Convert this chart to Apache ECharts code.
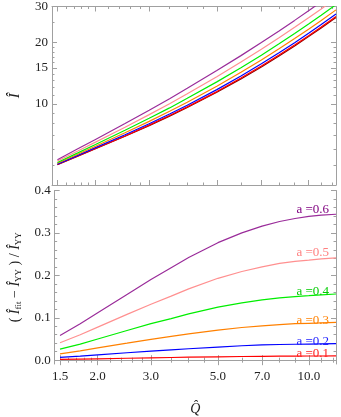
<!DOCTYPE html>
<html><head><meta charset="utf-8">
<script src="https://cdn.jsdelivr.net/npm/echarts@6/dist/echarts.min.js"></script>
<style>html,body{margin:0;padding:0;background:#fff}#c{width:341px;height:417px}</style>
</head><body><div id="c"></div>
<script>
// Q-hat sample points
const Q = [1.5, 1.75, 2, 2.5, 3, 3.5, 4, 5, 6, 7, 8, 9, 10, 11, 12.3];
// Top panel: I-hat for a = 0 ... 0.6
const I_a0  = [5.03, 5.54, 6.02, 6.93, 7.82, 8.70, 9.59, 11.39, 13.25, 15.17, 17.17, 19.23, 21.36, 23.56, 26.52];
const I_a01 = [5.04, 5.55, 6.04, 6.96, 7.86, 8.76, 9.66, 11.48, 13.37, 15.31, 17.33, 19.42, 21.57, 23.79, 26.79];
const I_a02 = [5.06, 5.59, 6.10, 7.05, 7.99, 8.91, 9.85, 11.74, 13.70, 15.72, 17.81, 19.95, 22.17, 24.47, 27.55];
const I_a03 = [5.11, 5.66, 6.19, 7.21, 8.20, 9.19, 10.18, 12.20, 14.27, 16.40, 18.61, 20.88, 23.22, 25.63, 28.88];
const I_a04 = [5.16, 5.75, 6.32, 7.42, 8.49, 9.55, 10.64, 12.81, 15.04, 17.32, 19.69, 22.11, 24.61, 27.19, 30.65];
const I_a05 = [5.24, 5.87, 6.49, 7.68, 8.85, 10.01, 11.20, 13.59, 16.02, 18.51, 21.08, 23.71, 26.40, 29.19, 32.91];
const I_a06 = [5.32, 6.02, 6.69, 8.00, 9.31, 10.60, 11.91, 14.55, 17.23, 19.96, 22.78, 25.65, 28.60, 31.62, 35.64];
// Bottom panel: relative difference (I_fit - I_YY) / I_YY
const R_a01 = [0.0017, 0.0025, 0.0032, 0.0045, 0.0055, 0.0063, 0.007, 0.008, 0.0087, 0.0092, 0.0095, 0.0097, 0.0098, 0.0099, 0.010];
const R_a02 = [0.0065, 0.0097, 0.0127, 0.0175, 0.0215, 0.0245, 0.027, 0.031, 0.034, 0.036, 0.037, 0.0375, 0.038, 0.0385, 0.039];
const R_a03 = [0.015, 0.022, 0.029, 0.040, 0.049, 0.056, 0.062, 0.071, 0.077, 0.081, 0.084, 0.086, 0.087, 0.088, 0.089];
const R_a04 = [0.026, 0.038, 0.050, 0.070, 0.086, 0.098, 0.109, 0.125, 0.135, 0.142, 0.147, 0.150, 0.152, 0.154, 0.156];
const R_a05 = [0.041, 0.060, 0.078, 0.108, 0.132, 0.151, 0.168, 0.193, 0.209, 0.220, 0.228, 0.233, 0.236, 0.239, 0.241];
const R_a06 = [0.058, 0.086, 0.112, 0.155, 0.190, 0.218, 0.242, 0.277, 0.300, 0.316, 0.327, 0.334, 0.339, 0.342, 0.344];
const curveLabels = ['a =0.1', 'a =0.2', 'a =0.3', 'a =0.4', 'a =0.5', 'a =0.6'];
// ticks
const xMajor = [1.5, 2, 3, 5, 7, 10];
const xMinor = [1.6, 1.7, 1.8, 1.9, 2.2, 2.4, 2.6, 2.8, 3.5, 4, 4.5, 6, 8, 9, 11, 12];
const yTopMajor = [10, 15, 20, 30];
const yTopMinor = [4, 5, 6, 7, 8, 9, 11, 12, 13, 14, 16, 17, 18, 19, 25];
const yBotMajor = [0, 0.1, 0.2, 0.3, 0.4];
const yBotMinor = [0.02, 0.04, 0.06, 0.08, 0.12, 0.14, 0.16, 0.18, 0.22, 0.24, 0.26, 0.28, 0.32, 0.34, 0.36, 0.38];

const FONT = 'Liberation Serif';
const FRAME = '#a0a0a0';
const TXT = '#222';
const colTop = ['#8b0000', '#ff0000', '#0000ff', '#ff8000', '#00ee00', '#ff9090', '#9a2c9a'];
const colBot = colTop.slice(1);
const labCol = ['#ff2020', '#2020ff', '#ff8000', '#00cc00', '#ff8080', '#800080'];
const labShiftY = [-2, -2, -2, -2, -5, -5];

function xAx(grid, pos, ticks, len, labels, line) {
  return {
    type: 'log', logBase: 10, gridIndex: grid, position: pos, min: 1.44, max: 12.3,
    axisLine: {show: line, lineStyle: {color: FRAME, width: 1}},
    splitLine: {show: false}, minorTick: {show: false}, minorSplitLine: {show: false},
    axisTick: {show: true, inside: true, length: len, customValues: ticks, lineStyle: {color: FRAME}},
    axisLabel: labels ? {show: true, customValues: labels, formatter: v => Number(v).toFixed(1),
      fontFamily: FONT, fontSize: 13, color: TXT, margin: 6} : {show: false}
  };
}
function yAx(grid, pos, type, mn, mx, ticks, len, labels, line, fmt) {
  return {
    type: type, gridIndex: grid, position: pos, min: mn, max: mx,
    axisLine: {show: line, lineStyle: {color: FRAME, width: 1}},
    splitLine: {show: false}, minorTick: {show: false}, minorSplitLine: {show: false},
    axisTick: {show: true, inside: true, length: len, customValues: ticks, lineStyle: {color: FRAME}},
    axisLabel: labels ? {show: true, customValues: labels, formatter: fmt,
      fontFamily: FONT, fontSize: 13, color: TXT, margin: 4} : {show: false}
  };
}

const xAxes = [
  xAx(0, 'bottom', xMajor, 5, null, true),
  xAx(0, 'bottom', xMinor, 2.5, null, false),
  xAx(0, 'top', xMajor, 5, null, true),
  xAx(0, 'top', xMinor, 2.5, null, false),
  xAx(1, 'bottom', xMajor, 5, xMajor, true),
  xAx(1, 'bottom', xMinor, 2.5, null, false),
  xAx(1, 'top', xMajor, 5, null, true),
  xAx(1, 'top', xMinor, 2.5, null, false)
];
xAxes[4].name = 'Q\u0302';
xAxes[4].nameLocation = 'middle';
xAxes[4].nameGap = 38;
xAxes[4].nameTextStyle = {fontFamily: FONT, fontStyle: 'italic', fontSize: 14, color: TXT};

const yAxes = [
  yAx(0, 'left', 'log', 4, 30, yTopMajor, 5, yTopMajor, true, v => String(Math.round(v))),
  yAx(0, 'left', 'log', 4, 30, yTopMinor, 2.5, null, false),
  yAx(0, 'right', 'log', 4, 30, yTopMajor, 5, null, true),
  yAx(0, 'right', 'log', 4, 30, yTopMinor, 2.5, null, false),
  yAx(1, 'left', 'value', -0.009, 0.4, yBotMajor, 5, yBotMajor, true, v => Number(v).toFixed(1)),
  yAx(1, 'left', 'value', -0.009, 0.4, yBotMinor, 2.5, null, false),
  yAx(1, 'right', 'value', -0.009, 0.4, yBotMajor, 5, null, true),
  yAx(1, 'right', 'value', -0.009, 0.4, yBotMinor, 2.5, null, false)
];
yAxes[0].name = 'Î';
yAxes[0].nameLocation = 'middle';
yAxes[0].nameGap = 29;
yAxes[0].nameTextStyle = {fontFamily: FONT, fontStyle: 'italic', fontSize: 15, color: TXT};
yAxes[4].name = '( {i|Î}{s|fit} − {i|Î}{s|YY} ) / {i|Î}{s|YY}';
yAxes[4].nameLocation = 'middle';
yAxes[4].nameGap = 28;
yAxes[4].nameTextStyle = {fontFamily: FONT, fontSize: 14, color: TXT,
  rich: {
    i: {fontFamily: FONT, fontStyle: 'italic', fontSize: 14, color: TXT, lineHeight: 17, verticalAlign: 'middle'},
    s: {fontFamily: FONT, fontSize: 9, color: TXT, lineHeight: 10, verticalAlign: 'bottom'}
  }};

const topData = [I_a0, I_a01, I_a02, I_a03, I_a04, I_a05, I_a06];
const botData = [R_a01, R_a02, R_a03, R_a04, R_a05, R_a06];
const pair = arr => Q.map((q, i) => [q, arr[i]]);
const series = [];
topData.forEach((arr, k) => series.push({
  type: 'line', xAxisIndex: 0, yAxisIndex: 0, data: pair(arr), showSymbol: false,
  smooth: false, lineStyle: {color: colTop[k], width: 1.2}, silent: true, animation: false
}));
botData.forEach((arr, k) => series.push({
  type: 'line', xAxisIndex: 4, yAxisIndex: 4, data: pair(arr), showSymbol: false,
  smooth: false, lineStyle: {color: colBot[k], width: 1.2}, silent: true, animation: false,
  endLabel: {show: true, formatter: curveLabels[k], color: labCol[k], fontFamily: FONT, fontSize: 13,
    align: 'right', offset: [-15, labShiftY[k]]}
}));

const chart = echarts.init(document.getElementById('c'), null, {renderer: 'canvas'});
chart.setOption({
  animation: false,
  grid: [
    {left: 46.5, width: 289.5, top: 5, height: 180},
    {left: 46.5, width: 289.5, top: 190.5, height: 179.5}
  ],
  xAxis: xAxes,
  yAxis: yAxes,
  series: series
});
</script></body></html>
